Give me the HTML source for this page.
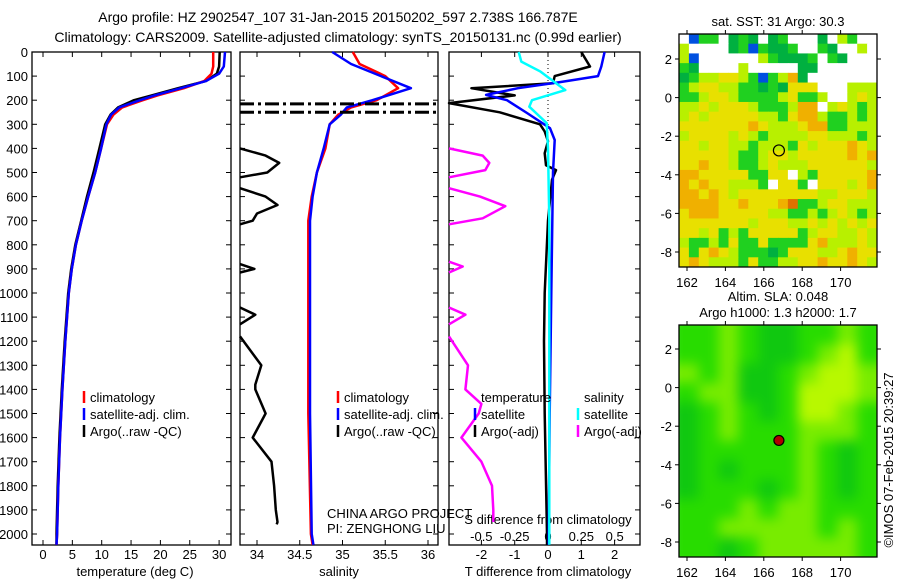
<!DOCTYPE html>
<html><head><meta charset="utf-8"><style>
body{margin:0;background:#fff}
svg{display:block;font-family:"Liberation Sans",sans-serif}
text{fill:#000}
</style></head><body>
<svg id="c" width="900" height="580" viewBox="0 0 900 580" xmlns="http://www.w3.org/2000/svg">
<text x="338" y="22" font-size="14" text-anchor="middle">Argo profile: HZ 2902547_107 31-Jan-2015 20150202_597 2.738S 166.787E</text>
<text x="338" y="42" font-size="14" text-anchor="middle">Climatology: CARS2009. Satellite-adjusted climatology: synTS_20150131.nc (0.99d earlier)</text>
<text x="778" y="26" font-size="13" text-anchor="middle">sat. SST: 31  Argo: 30.3</text>
<text x="778" y="301" font-size="13" text-anchor="middle">Altim. SLA: 0.048</text>
<text x="778" y="317" font-size="13" text-anchor="middle">Argo h1000: 1.3 h2000: 1.7</text>
<text transform="translate(893,460) rotate(-90)" font-size="13" text-anchor="middle">©IMOS 07-Feb-2015 20:39:27</text>
<g id="g"></g>
</svg>
<script>
// ---- data ----
const tDepth = [0,60,90,120,150,180,200,230,260,300,400,500,600,700,800,900,1000,1200,1400,1600,1800,2000,2045];
const tClim  = [29,29,28.7,27.5,24,19.5,17,13.5,12,10.9,9.9,8.9,7.7,6.6,5.6,4.9,4.4,3.8,3.3,2.9,2.6,2.4,2.3];
const tSat   = [31,30.8,30,27.8,23.5,19,16.5,13,11.6,10.8,9.9,8.9,7.7,6.6,5.6,4.9,4.4,3.8,3.3,2.9,2.6,2.4,2.3];
const tArgo  = [30.1,30,29.6,27.8,23,18.5,15.5,12.8,11.5,10.6,9.6,8.6,7.5,6.5,5.5,4.8,4.3,3.7,3.2,2.8,2.5,2.3,2.3];
const sDepth = [0,50,100,150,200,230,260,300,400,500,600,700,1000,1500,2000,2045];
const sClim  = [35.12,35.2,35.5,35.65,35.4,35.1,34.95,34.85,34.8,34.7,34.64,34.6,34.6,34.6,34.63,34.65];
const sSat   = [34.88,35.1,35.45,35.8,35.35,35.05,34.98,34.85,34.78,34.7,34.65,34.62,34.62,34.62,34.64,34.66];
const sArgoDepth = [400,430,460,500,520,null,565,600,635,670,700,715,null,880,900,915,null,1060,1090,1130,null,1180,1300,1380,1400,1500,1600,1700,1800,1900,1950,1960];
const sArgo      = [33.8,34.1,34.26,34.12,33.8,null,33.8,34.1,34.24,34.0,33.95,33.8,null,33.8,33.97,33.8,null,33.8,33.98,33.8,null,33.8,34.05,33.98,33.98,34.1,33.95,34.17,34.2,34.22,34.24,34.23];
const spikeDepths = [215,250];
const dTDepth = [0,60,100,125,150,178,200,253,316,365,500,1000,1500,2000,2045];
const dTSat   = [1.7,1.6,1.5,0.36,-0.9,-1.86,-1.23,-0.63,0.06,0.2,0.15,0.1,0.05,0.02,0.02];
const dTArgoDepth = [0,60,100,130,150,180,212,250,300,330,370,420,470,490,530,560,700,1000,1200,1500,2000,2045];
const dTArgo      = [1.0,1.26,0.2,0.15,-2.3,-1.0,-3.0,-1.45,-0.24,-0.1,0,-0.1,-0.06,0.24,0.12,0.1,0,-0.1,-0.12,-0.1,-0.03,-0.03];
const dSDepth = [0,40,80,158,200,227,295,400,700,1000,1500,2000,2045];
const dSSat   = [-0.22,-0.2,-0.06,0.13,-0.12,-0.14,-0.01,0,0.01,0.01,0.01,0.01,0.01];
const dSArgoDepth = [400,430,460,490,520,null,565,600,640,690,715,null,870,890,915,null,1060,1090,1130,null,1180,1300,1400,1460,1500,1600,1700,1800,1900,1950];
const dSArgo      = [-0.75,-0.49,-0.44,-0.47,-0.75,null,-0.75,-0.51,-0.32,-0.49,-0.75,null,-0.75,-0.64,-0.75,null,-0.75,-0.62,-0.75,null,-0.75,-0.6,-0.62,-0.5,-0.52,-0.65,-0.5,-0.42,-0.41,-0.41];
const depthTicks = [0,100,200,300,400,500,600,700,800,900,1000,1100,1200,1300,1400,1500,1600,1700,1800,1900,2000];
const tTicks = [0,5,10,15,20,25,30];
const sTicks = [34,34.5,35,35.5,36];
const sTickLabels = ["34","34.5","35","35.5","36"];
const dTTicks = [-2,-1,0,1,2];
const dSTicks = [-0.5,-0.25,0,0.25,0.5];
const lonTicks = [162,164,166,168,170];
const latTicks = [2,0,-2,-4,-6,-8];
const floatLon = 166.787, floatLat = -2.738;
const sstRows = [
"wBggwGgGwGgwwwGwlgww","lwwwwGgBgGGgwwgGwwlw","lBwwwwwwlgGGGgwgGwww","gGwwwwlwwwwwGGwwwwww",
"GgllyylgBgloGwwwwwww","glyyllggGgGyyywwwlll","gglyylgggglygglwwlyl","llylyyylgggloowlylgl",
"lylyyyyyllgyoolgglgl","yyyyyyyoylllyoogglll","lyyyylylgllllyylllgl","yylyyllglllgylyyyoyl",
"yyyyylgglyylyyyyyoyo","yyoyylgglylllyyyyyyl","ooyyyyyggyywlgyyyyyo","oyoyylllgwyygwyyylyo",
"ooyoylyyyyyyyyllyyyl","ooooyyoyyyorgglyylll","yoooyyyyyllgglglylgl","yyyyyyylyyyllylylyly",
"yylyglgyyyyyglyyllyl","lgglgyggyggggyolllyl","ygyoylgggGgyyyllyoyy","yoylllgyggllyyoyyoyl"];
const slaRows = ["1121001121","1121001231","2120012332","1220013332","0121013321","0121112221",
"0111112101","0101112101","0111012101","1112122111","1122222121","1101222221"];
const sstColors = {w:"#ffffff",B:"#0050e0",G:"#00b040",g:"#20d020",l:"#b8f000",y:"#e8e000",o:"#f0b000",r:"#e07000"};
const slaColors = ["#10c810","#28dc00","#78ec00","#b8f800"];

const NS="http://www.w3.org/2000/svg";
const root=document.getElementById('g');
function el(tag,attrs,parent){const e=document.createElementNS(NS,tag);for(const k in attrs)e.setAttribute(k,attrs[k]);(parent||root).appendChild(e);return e;}
function txt(x,y,s,anchor,size,parent){const t=el('text',{x:x,y:y,'font-size':size||12,'text-anchor':anchor||'start'},parent);t.textContent=s;return t;}

// axes
const Y0=52, PXD=0.241, YB=545;
const yD=d=>Y0+d*PXD;
const panels=[
 {name:'temperature',l:32,r:231,x:v=>43+v*5.87},
 {name:'salinity',l:240,r:438,x:v=>257+(v-34)*85.5},
 {name:'difference',l:449,r:640,x:v=>548+v*33.3}
];
const xS3=v=>548+v*133.3;

function linePath(xs,ds,xf,clipL,clipR){
  let d='',pen=false;
  for(let i=0;i<xs.length;i++){
    if(xs[i]===null||ds[i]===null){pen=false;continue;}
    let x=Math.max(clipL,Math.min(clipR,xf(xs[i])));
    d+=(pen?'L':'M')+x.toFixed(1)+' '+yD(ds[i]).toFixed(1);pen=true;
  }
  return d;
}
function series(name,xs,ds,xf,p,color,w){
  const pa=el('path',{d:linePath(xs,ds,xf,p.l,p.r),fill:'none',stroke:color,'stroke-width':w||2.5,'stroke-linejoin':'round'});
  
  
}

panels.forEach((p,pi)=>{
  const f=el('rect',{x:p.l,y:Y0,width:p.r-p.l,height:YB-Y0,fill:'none',stroke:'#000','stroke-width':1.3});
  
  
  depthTicks.forEach(d=>{
    el('line',{x1:p.l,x2:p.l+5,y1:yD(d),y2:yD(d),stroke:'#000'});
    el('line',{x1:p.r-5,x2:p.r,y1:yD(d),y2:yD(d),stroke:'#000'});
  });
});
depthTicks.forEach(d=>{
  const t=txt(28,yD(d)+5,String(d),'end',13);
  
  
});
function xticks(p,vals,labels,xf,ly){
  vals.forEach((v,i)=>{
    const x=xf(v);
    el('line',{x1:x,x2:x,y1:YB,y2:YB-5,stroke:'#000'});
    el('line',{x1:x,x2:x,y1:Y0,y2:Y0+5,stroke:'#000'});
    const t=txt(x,ly,labels[i],'middle',13);
    
    
  });
}
xticks(panels[0],tTicks,tTicks.map(String),panels[0].x,559);
xticks(panels[1],sTicks,sTickLabels,panels[1].x,559);
xticks(panels[2],dTTicks,dTTicks.map(String),panels[2].x,559);
dSTicks.forEach((v,i)=>{
  const t=txt(xS3(v),541,["-0.5","-0.25","0","0.25","0.5"][i],'middle',13);
  
  
});
[['temperature (deg C)',135,'temperature-axis-title'],['salinity',339,'salinity-axis-title'],['T difference from climatology',548,'t-diff-axis-title']].forEach(a=>{
  const t=txt(a[1],576,a[0],'middle',13);
  
  
});
let t=txt(548,524,'S difference from climatology','middle',13);


t=txt(327,518,'CHINA ARGO PROJECT','start',13);


t=txt(327,533,'PI: ZENGHONG LIU','start',13);



// zero dotted line
el('line',{x1:548,x2:548,y1:Y0,y2:yD(360),stroke:'#000','stroke-dasharray':'1,3'});

// series
const P=panels;
series('temp-argo',tArgo,tDepth,P[0].x,P[0],'#000');
series('temp-climatology',tClim,tDepth,P[0].x,P[0],'#ff0000');
series('temp-satellite',tSat,tDepth,P[0].x,P[0],'#0000ff');
series('sal-argo',sArgo,sArgoDepth,P[1].x,P[1],'#000');
series('sal-climatology',sClim,sDepth,P[1].x,P[1],'#ff0000');
series('sal-satellite',sSat,sDepth,P[1].x,P[1],'#0000ff');
spikeDepths.forEach(d=>{
  const l=el('line',{x1:240,x2:438,y1:yD(d),y2:yD(d),stroke:'#000','stroke-width':3,'stroke-dasharray':'14,4,3,4'});
  
  
});
series('sdiff-argo',dSArgo,dSArgoDepth,xS3,P[2],'#ff00ff');
series('tdiff-argo',dTArgo,dTArgoDepth,P[2].x,P[2],'#000');
series('tdiff-satellite',dTSat,dTDepth,P[2].x,P[2],'#0000ff');
series('sdiff-satellite',dSSat,dSDepth,xS3,P[2],'#00ffff');

// legends
function leg(x,y,color,label,name){
  const g=el('g',{});
  
  
  el('line',{x1:x,x2:x,y1:y-11,y2:y+1,stroke:color,'stroke-width':2.5},g);
  txt(x+6,y,label,'start',13,g);
}
[[84,'#ff0000','climatology'],[84,'#0000ff','satellite-adj. clim.'],[84,'#000','Argo(..raw -QC)']].forEach((a,i)=>leg(a[0],402+i*17,a[1],a[2],'temp-legend-entry'));
[[338,'#ff0000','climatology'],[338,'#0000ff','satellite-adj. clim.'],[338,'#000','Argo(..raw -QC)']].forEach((a,i)=>leg(a[0],402+i*17,a[1],a[2],'sal-legend-entry'));
t=txt(481,402,'temperature','start',13);
t=txt(584,402,'salinity','start',13);
leg(475,419,'#0000ff','satellite','diff-legend-entry');
leg(475,436,'#000','Argo(-adj)','diff-legend-entry');
leg(578,419,'#00ffff','satellite','diff-legend-entry');
leg(578,436,'#ff00ff','Argo(-adj)','diff-legend-entry');

// maps
function map(name,top,bottom,lat2y,latm8y,rows,colorOf,marker){
  const L=679,R=877;
  const lonX=v=>687+(v-162)*19.2;
  const latY=v=>lat2y+(2-v)*(latm8y-lat2y)/10;
  const g=el('g',{});
  
  
  const nr=rows.length,nc=rows[0].length;
  const cw=(R-L)/nc,ch=(bottom-top)/nr;
  const cg=el('g',{},g);
  if(name==='sla-map'){const cp=el('clipPath',{id:'cp2'},g);el('rect',{x:L,y:top,width:R-L,height:bottom-top},cp);cg.setAttribute('clip-path','url(#cp2)');const inner=el('g',{style:'filter:blur(6px)'},cg);rows.forEach((r,i)=>{for(let j=0;j<nc;j++){const c=el('rect',{x:L+j*cw-(j==0?10:0),y:top+i*ch-(i==0?10:0),width:cw+1+(j==0||j==nc-1?10:0),height:ch+1+(i==0||i==nr-1?10:0),fill:colorOf(r[j])},inner);}});}
  else rows.forEach((r,i)=>{for(let j=0;j<nc;j++){const c=el('rect',{x:L+j*cw,y:top+i*ch,width:cw+0.5,height:ch+0.5,fill:colorOf(r[j])},cg);}});
  el('rect',{x:L,y:top,width:R-L,height:bottom-top,fill:'none',stroke:'#000','stroke-width':1.3},g);
  lonTicks.forEach(v=>{const x=lonX(v);el('line',{x1:x,x2:x,y1:bottom,y2:bottom+4,stroke:'#000'},g);el('line',{x1:x,x2:x,y1:top,y2:top-4,stroke:'#000'},g);txt(x,bottom+20,String(v),'middle',13,g);});
  latTicks.forEach(v=>{const y=latY(v);el('line',{x1:L-4,x2:L,y1:y,y2:y,stroke:'#000'},g);el('line',{x1:R,x2:R+4,y1:y,y2:y,stroke:'#000'},g);txt(L-7,y+5,String(v),'end',13,g);});
  const m=el('circle',{cx:lonX(floatLon),cy:latY(floatLat),r:marker?5:5.5,fill:marker?'#b00000':'none',stroke:'#000','stroke-width':1.2},g);
  
  
}
map('sst-map',34,267,59,252,sstRows,c=>sstColors[c],false);
map('sla-map',325,557,349,542,slaRows,c=>slaColors[+c],true);
</script>
</body></html>
